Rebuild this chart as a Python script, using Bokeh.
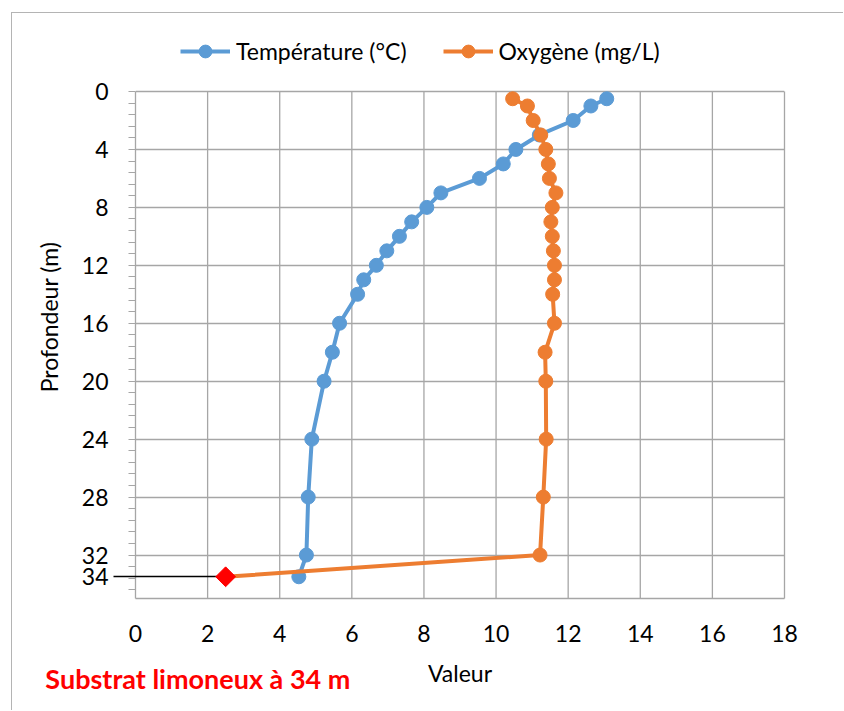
import numpy as np
from bokeh.plotting import figure
from bokeh.models import (Range1d, FixedTicker, Legend, LegendItem, LinearAxis,
                          ColumnDataSource)
from bokeh.embed import file_html
from bokeh.resources import INLINE

# ---------------- data ----------------
depth = [0.5, 1, 2, 3, 4, 5, 6, 7, 8, 9, 10, 11, 12, 13, 14, 16, 18, 20, 24, 28, 32, 33.5]
temperature = [13.07, 12.63, 12.14, 11.2, 10.55, 10.2, 9.54, 8.47, 8.08, 7.66, 7.32,
               6.97, 6.68, 6.33, 6.16, 5.66, 5.46, 5.23, 4.89, 4.79, 4.74, 4.53]
oxygen = [10.46, 10.87, 11.03, 11.24, 11.38, 11.45, 11.48, 11.66, 11.56, 11.52, 11.56,
          11.59, 11.62, 11.62, 11.57, 11.62, 11.36, 11.38, 11.39, 11.31, 11.22, 2.5]
x_ticks = [0, 2, 4, 6, 8, 10, 12, 14, 16, 18]
y_ticks = [0, 4, 8, 12, 16, 20, 24, 28, 32]
substrate_depth = 33.5
substrate_label = "34"
series_names = ["Température (°C)", "Oxygène (mg/L)"]
x_title = "Valeur"
y_title = "Profondeur (m)"
note = "Substrat limoneux à 34 m"
note_x = 1.73          # horizontal centre of the note, in axis units

BLUE = "#5B9BD5"
ORANGE = "#ED7D31"
GRID = "#a6a6a6"
FONT = "Lato"
FS = "23px"

x_min, x_max = 0, 18
y_min, y_max = 0, 35
frame_w = 649
plot_h = 507            # height of the depth area in pixels
legend_px = 56          # room for the legend above depth 0, kept inside the frame
y_top = -legend_px * (y_max - y_min) / plot_h

p = figure(width=832, height=698, output_backend="svg", toolbar_location=None,
           x_range=Range1d(x_min, x_max), y_range=Range1d(y_max, y_top),
           min_border_left=123, min_border_right=60, min_border_top=78 - legend_px,
           min_border_bottom=113)
p.margin = (12, 0, 0, 11)
p.styles = {"border-left": "1px solid #b4b4b4", "border-top": "1px solid #b4b4b4"}
p.outline_line_color = None

# vertical grid lines limited to the depth area
inner_x = x_ticks[1:-1]
p.segment(x0=inner_x, y0=[y_min] * len(inner_x), x1=inner_x, y1=[y_max] * len(inner_x),
          line_color=GRID, line_width=1.3, level="underlay")

temp_src = ColumnDataSource(dict(x=temperature, y=depth))
oxy_src = ColumnDataSource(dict(x=oxygen, y=depth))
oxy_pts = ColumnDataSource(dict(x=oxygen[:-1], y=depth[:-1]))
sub_pts = ColumnDataSource(dict(x=oxygen[-1:], y=depth[-1:]))

tl = p.line("x", "y", source=temp_src, line_color=BLUE, line_width=4)
ts = p.scatter("x", "y", source=temp_src, marker="circle", size=14, fill_color=BLUE, line_color=BLUE)
ol = p.line("x", "y", source=oxy_src, line_color=ORANGE, line_width=4)
os_ = p.scatter("x", "y", source=oxy_pts, marker="circle", size=14, fill_color=ORANGE, line_color=ORANGE)

def style_text(ax):
    ax.major_label_text_font = FONT
    ax.major_label_text_font_size = FS
    ax.major_label_text_color = "black"
    ax.axis_label_text_font = FONT
    ax.axis_label_text_font_size = FS
    ax.axis_label_text_font_style = "normal"
    ax.axis_label_text_color = "black"

# ---- x axis (numbers + title)
xa = p.xaxis[0]
xa.ticker = FixedTicker(ticks=x_ticks, minor_ticks=[])
xa.major_tick_out = 0
xa.major_tick_in = 0
xa.axis_line_color = GRID
xa.axis_line_width = 1.3
xa.major_label_standoff = 26
xa.axis_label = x_title
xa.axis_label_standoff = 14
style_text(xa)

# ---- note under the chart, carried by a bare secondary axis
xn = LinearAxis(ticker=FixedTicker(ticks=[note_x], minor_ticks=[]),
                major_label_overrides={note_x: note},
                axis_line_color=None, major_tick_line_color=None,
                major_tick_out=0, major_tick_in=0, minor_tick_out=0, minor_tick_in=0,
                major_label_standoff=-28)
style_text(xn)
xn.major_label_text_color = "#ff0000"
xn.major_label_text_font_style = "bold"
xn.major_label_text_font_size = "27px"
p.add_layout(xn, "below")

# ---- inner y axis: frame edge, gray ticks, and the substrate marker line
ya = p.yaxis[0]
ya.bounds = (y_min, y_max)
ya.ticker = FixedTicker(ticks=[substrate_depth], minor_ticks=list(np.arange(0, 35, 0.8)))
ya.major_label_overrides = {substrate_depth: ""}
ya.major_label_text_font_size = "1px"
ya.major_label_standoff = 0
ya.major_tick_out = 22
ya.major_tick_in = int(round(oxygen[-1] / (x_max - x_min) * frame_w)) - 8
ya.major_tick_line_color = "black"
ya.major_tick_line_width = 1.3
ya.minor_tick_out = 7
ya.minor_tick_in = 0
ya.minor_tick_line_color = GRID
ya.minor_tick_line_width = 1.2
ya.axis_line_color = GRID
ya.axis_line_width = 1.3

# ---- outer y axis: labels and title
yl = LinearAxis(ticker=FixedTicker(ticks=y_ticks + [substrate_depth], minor_ticks=[]),
                bounds=(y_min, y_max),
                major_label_overrides={substrate_depth: substrate_label},
                axis_line_color=None, major_tick_line_color=None,
                major_tick_out=0, major_tick_in=0, minor_tick_out=0, minor_tick_in=0,
                major_label_standoff=5, axis_label=y_title, axis_label_standoff=16)
style_text(yl)
p.add_layout(yl, "left")

# ---- right edge of the plot area
yr = LinearAxis(ticker=FixedTicker(ticks=[], minor_ticks=[]), bounds=(y_min, y_max),
                axis_line_color=GRID, axis_line_width=1.3,
                major_tick_out=0, major_tick_in=0, minor_tick_out=0, minor_tick_in=0,
                major_label_standoff=0, major_label_text_font_size="1px")
p.add_layout(yr, "right")

p.xgrid.visible = False
p.ygrid.ticker = FixedTicker(ticks=y_ticks)
p.ygrid.grid_line_color = GRID
p.ygrid.grid_line_width = 1.3

p.scatter("x", "y", source=sub_pts, marker="square", angle=np.pi / 4, size=14,
          fill_color="#ff0000", line_color="#ff0000", level="overlay")

legend = Legend(items=[LegendItem(label=series_names[0], renderers=[tl, ts]),
                       LegendItem(label=series_names[1], renderers=[ol, os_])],
                orientation="horizontal", location="top_left",
                title=" ", title_location="left", title_text_font_size="1px", title_standoff=44,
                glyph_width=50, glyph_height=32, label_standoff=6, spacing=36,
                padding=0, margin=0, border_line_color=None, background_fill_alpha=0,
                label_text_font=FONT, label_text_font_size=FS, label_text_color="black")
p.add_layout(legend, "center")

open("out.html", "w").write(file_html(p, INLINE))
